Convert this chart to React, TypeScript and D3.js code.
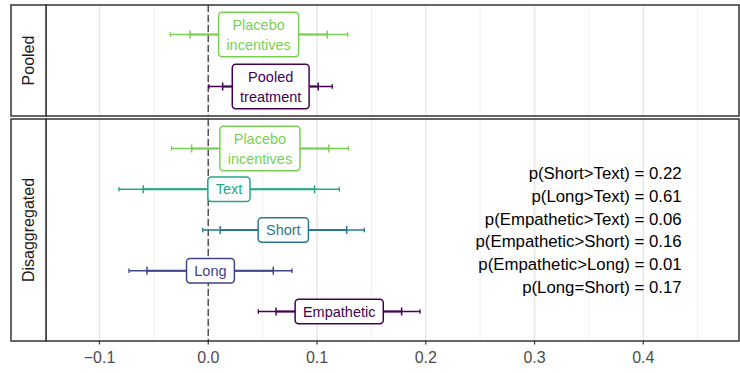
import React from "react";
import * as d3 from "d3";

const W = 740;
const H = 373;

// ---- data ----
const pooledLabels = [["Placebo", "incentives"], ["Pooled", "treatment"]];
const pooledColors = ["#7AD151", "#440154"];
const pooledEst = [0.0463, 0.0574];
const pooledLo95 = [-0.0349, 0.0006];
const pooledHi95 = [0.1282, 0.114];
const pooledLo80 = [-0.0168, 0.0132];
const pooledHi80 = [0.1094, 0.1011];

const disLabels = [["Placebo", "incentives"], ["Text"], ["Short"], ["Long"], ["Empathetic"]];
const disColors = ["#7AD151", "#22A884", "#2A788E", "#414487", "#440154"];
const disEst = [0.0475, 0.019, 0.069, 0.002, 0.1204];
const disLo95 = [-0.0337, -0.0821, -0.0051, -0.0729, 0.046];
const disHi95 = [0.1289, 0.1205, 0.1435, 0.077, 0.1947];
const disLo80 = [-0.0153, -0.0598, 0.011, -0.0564, 0.0623];
const disHi80 = [0.1109, 0.0978, 0.1273, 0.0598, 0.1778];

const pTexts = [
  "p(Short>Text) = 0.22",
  "p(Long>Text) = 0.61",
  "p(Empathetic>Text) = 0.06",
  "p(Empathetic>Short) = 0.16",
  "p(Empathetic>Long) = 0.01",
  "p(Long=Short) = 0.17",
];
const pTextX = 0.4353;

const xTicks = [-0.1, 0, 0.1, 0.2, 0.3, 0.4];
const xMinor = [-0.05, 0.05, 0.15, 0.25, 0.35, 0.45];
const xDomain: [number, number] = [-0.1492, 0.488];

const FONT = "'Liberation Sans', Arial, Helvetica, sans-serif";

// ---- layout ----
const stripL = 11;
const panelL = 46;
const panelR = 739;
const panels = [
  { name: "Pooled", top: 5, bottom: 116, labels: pooledLabels, colors: pooledColors, est: pooledEst, lo95: pooledLo95, hi95: pooledHi95, lo80: pooledLo80, hi80: pooledHi80 },
  { name: "Disaggregated", top: 119, bottom: 341, labels: disLabels, colors: disColors, est: disEst, lo95: disLo95, hi95: disHi95, lo80: disLo80, hi80: disHi80 },
];

const LABEL_FS = 14.5;
const LINE_H = 20;
const PADX = 7.8;
const STRIP_FS = 16;
const P_FS = 16.8;

let ctx: CanvasRenderingContext2D | null = null;
function textWidth(s: string, fs: number) {
  if (!ctx) {
    const c = document.createElement("canvas");
    ctx = c.getContext("2d");
  }
  if (!ctx) return s.length * fs * 0.55;
  ctx.font = `${fs}px 'Liberation Sans'`;
  return ctx.measureText(s).width;
}

export default function App() {
  const x = d3.scaleLinear().domain(xDomain).range([panelL, panelR]);
  const bottomY = panels[1].bottom;

  return (
    <svg width={W} height={H} style={{ position: "absolute", left: 0, top: 0, background: "#fff" }} fontFamily={FONT}>
      <rect x={0} y={0} width={W} height={H} fill="#fff" />
      {panels.map((p, pi) => {
        const keys = p.labels.map((l) => l.join(" "));
        const y = d3.scalePoint<string>().domain(keys).range([p.top + 29.5, p.bottom - 29.5]);
        return (
          <g key={pi}>
            {/* gridlines */}
            {xMinor.map((t) => (
              <line key={"m" + t} x1={x(t)} x2={x(t)} y1={p.top} y2={p.bottom} stroke="#f0f0f0" strokeWidth={1} />
            ))}
            {xTicks.map((t) => (
              <line key={"M" + t} x1={x(t)} x2={x(t)} y1={p.top} y2={p.bottom} stroke="#e8e8e8" strokeWidth={1.6} />
            ))}
            {/* zero line */}
            <line x1={x(0)} x2={x(0)} y1={p.top} y2={p.bottom} stroke="#555" strokeWidth={1.5} strokeDasharray="7 3" />
            {/* intervals */}
            {keys.map((k, i) => {
              const cy = y(k)!;
              const col = p.colors[i];
              return (
                <g key={k}>
                  <line x1={x(p.lo95[i])} x2={x(p.hi95[i])} y1={cy} y2={cy} stroke={col} strokeWidth={1.3} />
                  <line x1={x(p.lo80[i])} x2={x(p.hi80[i])} y1={cy} y2={cy} stroke={col} strokeWidth={2} />
                  {[p.lo95[i], p.hi95[i]].map((v, j) => (
                    <line key={"o" + j} x1={x(v)} x2={x(v)} y1={cy - 2.3} y2={cy + 2.3} stroke={col} strokeWidth={1.3} />
                  ))}
                  {[p.lo80[i], p.hi80[i]].map((v, j) => (
                    <line key={"i" + j} x1={x(v)} x2={x(v)} y1={cy - 4} y2={cy + 4} stroke={col} strokeWidth={1.5} />
                  ))}
                </g>
              );
            })}
            {/* labels */}
            {keys.map((k, i) => {
              const cy = y(k)!;
              const col = p.colors[i];
              const lines = p.labels[i];
              const tw = Math.max(...lines.map((s) => textWidth(s, LABEL_FS)));
              const bw = tw + 2 * PADX;
              const bh = 24.5 + (lines.length - 1) * LINE_H;
              const cx = x(p.est[i]);
              return (
                <g key={"lab" + k}>
                  <rect x={cx - bw / 2} y={cy - bh / 2} width={bw} height={bh} rx={3.5} fill="#fff" stroke={col} strokeWidth={1.5} />
                  {lines.map((s, li) => (
                    <text key={li} x={cx} y={cy + (li - (lines.length - 1) / 2) * LINE_H + 5.1} textAnchor="middle" fontSize={LABEL_FS} fill={col}>
                      {s}
                    </text>
                  ))}
                </g>
              );
            })}
            {/* p-value annotations */}
            {pi === 1 &&
              pTexts.map((s, i) => (
                <text key={s} x={x(pTextX)} y={y(keys[2])! + (i - 2.5) * 22.8 + 6} textAnchor="end" fontSize={P_FS} fill="#000">
                  {s}
                </text>
              ))}
            {/* panel border */}
            <rect x={panelL} y={p.top} width={panelR - panelL} height={p.bottom - p.top} fill="none" stroke="#333" strokeWidth={1.5} />
            {/* strip */}
            <rect x={stripL} y={p.top} width={panelL - stripL} height={p.bottom - p.top} fill="#fff" stroke="#333" strokeWidth={1.5} />
            <text
              transform={`translate(${(stripL + panelL) / 2 + 5.7},${(p.top + p.bottom) / 2}) rotate(-90)`}
              textAnchor="middle"
              fontSize={STRIP_FS}
              fill="#1a1a1a"
            >
              {p.name}
            </text>
          </g>
        );
      })}
      {/* x axis ticks */}
      {xTicks.map((t) => (
        <g key={"t" + t}>
          <line x1={x(t)} x2={x(t)} y1={bottomY} y2={bottomY + 3.5} stroke="#333" strokeWidth={1.2} />
          <text x={x(t)} y={bottomY + 21.5} textAnchor="middle" fontSize={16} fill="#4d4d4d">
            {t < 0 ? "\u2212" + d3.format(".1f")(-t) : d3.format(".1f")(t)}
          </text>
        </g>
      ))}
    </svg>
  );
}
